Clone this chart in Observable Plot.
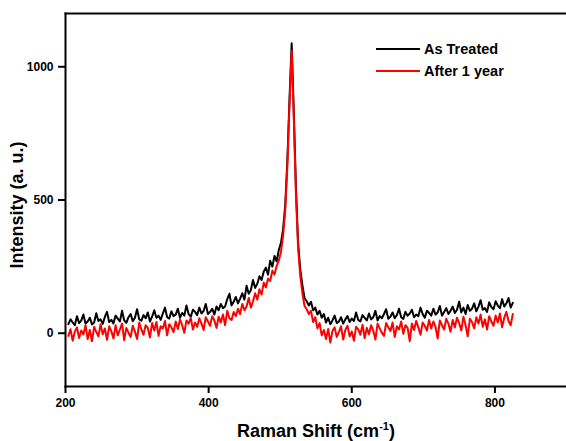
<!DOCTYPE html>
<html><head><meta charset="utf-8">
<script src="https://cdn.jsdelivr.net/npm/d3@7"></script>
<script src="https://cdn.jsdelivr.net/npm/@observablehq/plot@0.6"></script>
<style>
body{margin:0;background:#fff;}
#wrap{position:relative;width:566px;height:441px;font-family:Arial,"Liberation Sans",sans-serif;}
#legend{position:absolute;left:376px;top:38px;font-weight:bold;font-size:14.5px;}
#legend div{display:flex;align-items:center;height:22px;}
#legend svg{margin-right:4px;}
</style></head><body><div id="wrap"><div id="legend"></div></div>
<script>
// Raman shift grid (cm^-1): first value and spacing
const shiftStart = 204, shiftStep = 3;
// As Treated intensities (a.u.)
const asTreated = [
 34, 52, 41, 30, 64, 38, 47, 70, 36, 44,
 58, 33, 40, 75, 46, 52, 35, 61, 80, 42,
 50, 37, 66, 55, 44, 84, 48, 39, 60, 72,
 45, 58, 90, 52, 47, 68, 56, 78, 44, 62,
 86, 58, 66, 50, 74, 96, 60, 55, 82, 64,
 70, 92, 58, 76, 66, 104, 72, 62, 88, 80,
 68, 96, 74, 84, 110, 72, 80, 92, 70, 100,
 86, 110, 94, 100, 128, 148, 104, 118, 136, 112,
 130, 150, 126, 178, 148, 162, 200, 170, 186, 214,
 200, 232, 246, 220, 272, 250, 290, 270, 312, 338,
 390, 480, 650, 880, 1088, 830, 545, 340, 240, 180,
 132, 120, 104, 118, 86, 96, 70, 84, 58, 72,
 40, 58, 34, 48, 66, 38, 44, 60, 36, 52,
 64, 42, 55, 46, 78, 50, 44, 68, 58, 48,
 74, 52, 60, 84, 48, 64, 56, 72, 90, 54,
 62, 78, 56, 68, 92, 60, 54, 80, 66, 74,
 88, 60, 70, 64, 96, 72, 58, 84, 76, 66,
 92, 70, 78, 102, 66, 80, 94, 72, 84, 100,
 76, 88, 118, 78, 96, 72, 106, 84, 92, 112,
 82, 100, 124, 88, 94, 80, 116, 98, 90, 120,
 104, 94, 128, 100, 112, 132, 96, 114
];
// After 1 year intensities (a.u.)
const after1Year = [
 -10, 15, -28, 6, 22, -18, 10, -5, 30, -22,
 12, -30, 24, 5, -12, 34, -4, 18, -25, 26,
 8, -20, 30, -8, 14, 36, -26, 20, 2, -14,
 28, 6, -22, 40, 14, -6, 30, 20, -16, 38,
 10, 42, -10, 26, 18, 46, -8, 34, 22, 4,
 44, 16, 52, 30, 2, 48, 36, 58, 14, 40,
 24, 56, 36, 12, 60, 44, 28, 64, 48, 20,
 62, 40, 70, 30, 84, 56, 50, 80, 64, 92,
 72, 110, 86, 100, 132, 96, 120, 150, 126, 165,
 145, 190, 172, 205, 196, 235, 220, 252, 272, 305,
 365, 460, 630, 860, 1060, 805, 520, 320, 215, 150,
 102, 90, 72, 84, 42, 60, 18, 38, -8, 12,
 -22, 16, -35, 8, 22, -14, 4, 26, -24, 12,
 28, -12, 6, -28, 24, 14, -6, 32, -18, 20,
 -4, 30, 10, -24, 36, 18, 2, -10, 38, 22,
 8, 40, -14, 26, 14, 44, -2, 30, 20, -30,
 36, 12, 46, 22, -6, 40, 28, 10, 50, 18,
 44, 24, -20, 48, 30, 14, 54, 36, 6, 50,
 22, 58, 38, 10, 62, 30, -12, 54, 42, 18,
 60, 36, 70, 24, 52, 14, 64, 44, 28, 66,
 40, 74, 22, 58, 80, 46, 30, 72
];
const seriesNames = ["As Treated", "After 1 year"];
const seriesColors = ["#000000", "#ff0000"];
const xTicks = [200, 400, 600, 800];
const yTicks = [0, 500, 1000];

const toRows = (vals, name) => vals.map((v, i) => ({shift: shiftStart + i * shiftStep, intensity: v, series: name}));
const rowsA = toRows(asTreated, seriesNames[0]);
const rowsB = toRows(after1Year, seriesNames[1]);

const font = 'Arial, "Liberation Sans", sans-serif';
const plot = Plot.plot({
  width: 566, height: 441,
  marginLeft: 65, marginRight: 0, marginTop: 13, marginBottom: 55,
  x: {domain: [200, 900]},
  y: {domain: [-200, 1200]},
  style: {fontFamily: font, background: "white", color: "black"},
  marks: [
    Plot.line(rowsA, {x: "shift", y: "intensity", stroke: seriesColors[0], strokeWidth: 2}),
    Plot.line(rowsB, {x: "shift", y: "intensity", stroke: seriesColors[1], strokeWidth: 2}),
    Plot.frame({anchor: "top", stroke: "black", strokeWidth: 2}),
    Plot.frame({anchor: "left", stroke: "black", strokeWidth: 2}),
    Plot.frame({anchor: "bottom", stroke: "black", strokeWidth: 2}),
    Plot.axisX({ticks: xTicks, tickSize: 7, tickPadding: 5, fontSize: 12, fontWeight: "bold", strokeWidth: 2, label: null, tickFormat: d3.format("d")}),
    Plot.axisY({ticks: yTicks, tickSize: 7, tickPadding: 5, fontSize: 12, fontWeight: "bold", strokeWidth: 2, label: null, tickFormat: d3.format("d")})
  ]
});
document.getElementById("wrap").prepend(plot);

// axis titles (with superscript)
const svg = d3.select(plot);
const xt = svg.append("text").attr("x", 316).attr("y", 437).attr("text-anchor", "middle")
  .attr("font-size", 18).attr("font-weight", "bold").attr("font-family", font).attr("fill", "black");
xt.append("tspan").text("Raman Shift (cm");
xt.append("tspan").attr("font-size", 11).attr("dy", -7).text("-1");
xt.append("tspan").attr("dy", 7).text(")");
svg.append("text").attr("transform", "translate(23,205) rotate(-90)").attr("text-anchor", "middle")
  .attr("font-size", 18).attr("font-weight", "bold").attr("font-family", font).attr("fill", "black")
  .text("Intensity (a. u.)");

// legend
const lg = d3.select("#legend");
seriesNames.forEach((n, i) => {
  const row = lg.append("div");
  row.append("svg").attr("width", 44).attr("height", 4)
    .append("line").attr("x1", 0).attr("x2", 44).attr("y1", 2).attr("y2", 2)
    .attr("stroke", seriesColors[i]).attr("stroke-width", 2);
  row.append("span").text(n);
});
</script>
</body></html>
